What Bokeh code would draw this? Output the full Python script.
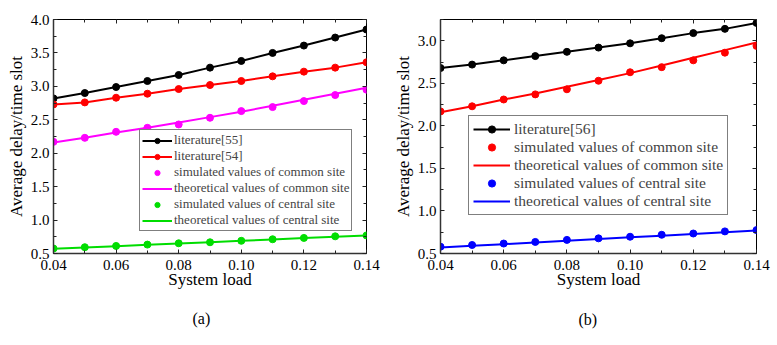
from bokeh.plotting import figure
from bokeh.models import (Range1d, FixedTicker, LinearAxis, PrintfTickFormatter,
                          Legend, LegendItem, Title)
from bokeh.layouts import row
from bokeh.embed import file_html
from bokeh.resources import INLINE

# ---------------- data ----------------
x_load = [0.04, 0.05, 0.06, 0.07, 0.08, 0.09, 0.10, 0.11, 0.12, 0.13, 0.14]

a_lit55 = [2.82, 2.90, 2.99, 3.08, 3.17, 3.28, 3.38, 3.50, 3.61, 3.73, 3.85]
a_lit54 = [2.73, 2.76, 2.83, 2.89, 2.96, 3.02, 3.08, 3.15, 3.22, 3.28, 3.36]
a_common_sim = [2.17, 2.23, 2.32, 2.38, 2.43, 2.53, 2.63, 2.69, 2.78, 2.87, 2.95]
a_common_theory = [2.16, 2.23, 2.31, 2.38, 2.46, 2.54, 2.62, 2.71, 2.80, 2.89, 2.98]
a_central_sim = [0.575, 0.594, 0.613, 0.633, 0.653, 0.668, 0.69, 0.713, 0.733, 0.757, 0.77]
a_central_theory = [0.57, 0.59, 0.61, 0.63, 0.65, 0.67, 0.69, 0.71, 0.73, 0.75, 0.77]

b_lit56 = [2.68, 2.72, 2.77, 2.82, 2.87, 2.92, 2.97, 3.03, 3.09, 3.14, 3.21]
b_common_sim = [2.17, 2.23, 2.31, 2.37, 2.43, 2.53, 2.63, 2.69, 2.77, 2.86, 2.94]
b_common_theory = [2.16, 2.23, 2.31, 2.38, 2.46, 2.54, 2.62, 2.71, 2.80, 2.89, 2.98]
b_central_sim = [0.58, 0.60, 0.617, 0.636, 0.66, 0.678, 0.697, 0.72, 0.735, 0.76, 0.775]
b_central_theory = [0.57, 0.59, 0.61, 0.63, 0.65, 0.67, 0.69, 0.71, 0.73, 0.75, 0.77]

x_major = [0.04, 0.06, 0.08, 0.10, 0.12, 0.14]
x_minor = [0.05, 0.07, 0.09, 0.11, 0.13]
a_y_major = [0.5, 1.0, 1.5, 2.0, 2.5, 3.0, 3.5, 4.0]
a_y_minor = [0.75, 1.25, 1.75, 2.25, 2.75, 3.25, 3.75]
b_y_major = [0.5, 1.0, 1.5, 2.0, 2.5, 3.0]
b_y_minor = [0.75, 1.25, 1.75, 2.25, 2.75, 3.25]

FONT = "Liberation Serif"


def style_axis(ax, ticker, fmt, show_labels, line_col, line_w):
    ax.ticker = ticker
    ax.formatter = PrintfTickFormatter(format=fmt)
    ax.major_tick_in = 4
    ax.major_tick_out = 0
    ax.minor_tick_in = 3
    ax.minor_tick_out = 0
    ax.major_tick_line_color = "#222222"
    ax.minor_tick_line_color = "#222222"
    ax.axis_line_color = line_col
    ax.axis_line_width = line_w
    ax.major_label_text_font = FONT
    ax.axis_label_text_font = FONT
    ax.axis_label_text_font_style = "normal"
    ax.axis_label_text_color = "black"
    ax.major_label_text_color = "black"
    if not show_labels:
        ax.major_label_text_font_size = "1px"
        ax.major_label_text_color = None
        ax.major_label_standoff = 0
        ax.axis_label = None


def make_panel(y_max, y_major, y_minor, fmt_y, w, h, bl, bt, br, bb):
    p = figure(output_backend="svg", toolbar_location=None,
               x_range=Range1d(0.04, 0.14), y_range=Range1d(0.5, y_max),
               width=w, height=h,
               min_border_left=bl, min_border_top=bt,
               min_border_right=br, min_border_bottom=bb)
    p.xgrid.visible = False
    p.ygrid.visible = False
    p.outline_line_color = "black"
    p.outline_line_width = 1
    xt = FixedTicker(ticks=x_major, minor_ticks=x_minor)
    yt = FixedTicker(ticks=y_major, minor_ticks=y_minor)
    style_axis(p.xaxis[0], xt, "%.2f", True, "#333333", 1.5)
    style_axis(p.yaxis[0], yt, fmt_y, True, "#333333", 1.5)
    p.xaxis[0].axis_label = "System load"
    p.yaxis[0].axis_label = "Average delay/time slot"
    p.xaxis[0].axis_label_text_font_size = "17px"
    p.yaxis[0].axis_label_text_font_size = "17px"
    p.xaxis[0].major_label_text_font_size = "15px"
    p.yaxis[0].major_label_text_font_size = "15px"
    p.xaxis[0].major_label_standoff = 6
    p.xaxis[0].axis_label_standoff = -3
    p.yaxis[0].major_label_standoff = 4
    p.yaxis[0].axis_label_standoff = 2
    top = LinearAxis()
    right = LinearAxis()
    style_axis(top, FixedTicker(ticks=x_major, minor_ticks=x_minor), "%.2f", False, None, 1)
    style_axis(right, FixedTicker(ticks=y_major, minor_ticks=y_minor), fmt_y, False, None, 1)
    p.add_layout(top, "above")
    p.add_layout(right, "right")
    return p


# ---------------- panel (a) ----------------
pa = make_panel(4.0, a_y_major, a_y_minor, "%.1f", 390, 344, 53, 19, 24, 90)
MS = 7
r1l = pa.line(x_load, a_lit55, line_color="black", line_width=2)
r1s = pa.scatter(x_load, a_lit55, size=MS, color="black")
r2l = pa.line(x_load, a_lit54, line_color="#ff0000", line_width=2)
r2s = pa.scatter(x_load, a_lit54, size=MS, color="#ff0000")
r3l = pa.line(x_load, a_common_theory, line_color="#ff00ff", line_width=2)
r3s = pa.scatter(x_load, a_common_sim, size=MS, color="#ff00ff")
r4l = pa.line(x_load, a_central_theory, line_color="#00dd00", line_width=2)
r4s = pa.scatter(x_load, a_central_sim, size=MS, color="#00dd00")

leg_a = Legend(items=[
    LegendItem(label="literature[55]", renderers=[r1l, r1s]),
    LegendItem(label="literature[54]", renderers=[r2l, r2s]),
    LegendItem(label="simulated values of common site", renderers=[r3s]),
    LegendItem(label="theoretical values of common site", renderers=[r3l]),
    LegendItem(label="simulated values of central site", renderers=[r4s]),
    LegendItem(label="theoretical values of central site", renderers=[r4l]),
], location=(86, 22), padding=2, spacing=-3, glyph_width=30, glyph_height=13,
    label_height=13, label_standoff=2, label_text_font=FONT,
    label_text_font_size="13px", label_text_line_height=1.0,
    border_line_color="black", border_line_width=1,
    background_fill_alpha=1, margin=0)
pa.add_layout(leg_a, "center")
pa.add_layout(Title(text="(a)", align="left", offset=139, standoff=33,
                    text_font=FONT, text_font_size="16px",
                    text_font_style="normal", text_color="black"), "below")

# ---------------- panel (b) ----------------
pb = make_panel(3.25, b_y_major, b_y_minor, "%.1f", 386, 344, 49, 13, 20, 91)
s1l = pb.line(x_load, b_lit56, line_color="black", line_width=2)
s1s = pb.scatter(x_load, b_lit56, size=MS, color="black")
s2l = pb.line(x_load, b_common_theory, line_color="#ff0000", line_width=2)
s2s = pb.scatter(x_load, b_common_sim, size=MS, color="#ff0000")
s3l = pb.line(x_load, b_central_theory, line_color="#0000ff", line_width=2)
s3s = pb.scatter(x_load, b_central_sim, size=MS, color="#0000ff")

leg_b = Legend(items=[
    LegendItem(label="literature[56]", renderers=[s1l, s1s]),
    LegendItem(label="simulated values of common site", renderers=[s2s]),
    LegendItem(label="theoretical values of common site", renderers=[s2l]),
    LegendItem(label="simulated values of central site", renderers=[s3s]),
    LegendItem(label="theoretical values of central site", renderers=[s3l]),
], location=(28, 38), padding=4, spacing=0, glyph_width=37, glyph_height=18,
    label_height=18, label_standoff=4, label_text_font=FONT,
    label_text_font_size="15.5px", label_text_line_height=1.0,
    border_line_color="black", border_line_width=1,
    background_fill_alpha=1, margin=0)
pb.add_layout(leg_b, "center")
pb.add_layout(Title(text="(b)", align="left", offset=138, standoff=34,
                    text_font=FONT, text_font_size="16px",
                    text_font_style="normal", text_color="black"), "below")

layout = row(pa, pb)
open("out.html", "w").write(file_html(layout, INLINE))
